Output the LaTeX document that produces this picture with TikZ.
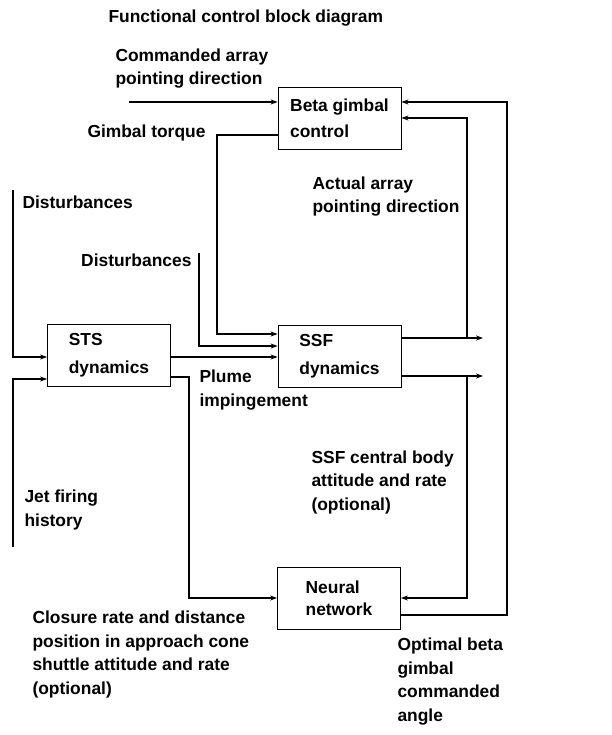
\documentclass[tikz,border=0pt]{standalone}
\usepackage{fontspec}
\setmainfont{Liberation Sans}
\usetikzlibrary{arrows.meta}

\tikzset{
	blk/.style={draw, thick, minimum width=123pt, minimum height=62pt, align=left, inner sep=0pt},
	lbl/.style={anchor=base west, align=left, inner sep=0pt},
	arr/.style={-{Stealth[length=7pt,width=5pt]}},
}

\begin{document}
\begin{tikzpicture}[x=1pt, y=-1pt, line width=1.1pt, font=\fontsize{17.4}{23.5}\selectfont\bfseries]

	\useasboundingbox (0,0) rectangle (611,735);

	% blocks
	\node[blk, font=\fontsize{17.4}{26}\selectfont\bfseries] (beta) at (339.5,118) {Beta gimbal\\control};
	\node[blk, font=\fontsize{17.4}{28}\selectfont\bfseries] (sts) at (109,355.5) {STS\\dynamics};
	\node[blk, font=\fontsize{17.4}{28}\selectfont\bfseries] (ssf) at (339.5,356.5) {SSF\\dynamics};
	\node[blk, font=\fontsize{17.4}{22}\selectfont\bfseries] (nn) at (339,598.5) {Neural\\network};

	% texts (base = last line)
	\node[lbl] (title) at (108,23) {Functional control block diagram};
	\node[lbl] (cmdtxt) at (115,85) {Commanded array\\pointing direction};
	\node[lbl, anchor=base east] (gttxt) at (206,138) {Gimbal torque};
	\node[lbl] (acttxt) at (312,213) {Actual array\\pointing direction};
	\node[lbl] (dtxta) at (22,208) {Disturbances};
	\node[lbl, anchor=base east] (dtxtb) at (192,266) {Disturbances};
	\node[lbl] (pltxt) at (199,406) {Plume\\impingement};
	\node[lbl] (jettxt) at (24,526) {Jet firing\\history};
	\node[lbl] (cbtxt) at (311,510) {SSF central body\\attitude and rate\\(optional)};
	\node[lbl] (cltxt) at (32,694) {Closure rate and distance\\position in approach cone\\shuttle attitude and rate\\(optional)};
	\node[lbl] (opttxt) at (397,721) {Optimal beta\\gimbal\\commanded\\angle};

	% free ends and corners
	\coordinate (cmdin) at (129,102);
	\coordinate (gt) at (217,135);
	\coordinate (dista) at (13,190);
	\coordinate (distb) at (199,253);
	\coordinate (jet) at (13,547);
	\coordinate (pl) at (189,377);
	\coordinate (outa) at (483,338);
	\coordinate (outb) at (483,376);
	\coordinate (fbin) at (467,338);
	\coordinate (fbnn) at (467,376);
	\coordinate (fbout) at (507,615);

	% connectors
	\draw[arr] (cmdin) -- (cmdin -| beta.west);
	\draw[arr] (beta.west |- gt) -- (gt) |- (ssf.west |- 0,334);
	\draw[arr] (distb) |- (ssf.west |- 0,346);
	\draw[arr] (sts.east |- 0,357) -- (ssf.west |- 0,357);
	\draw[arr] (dista) |- (sts.west |- 0,357);
	\draw[arr] (jet) |- (sts.west |- 0,379);
	\draw[arr] (sts.east |- pl) -- (pl) |- (nn.west |- 0,598);
	\draw[arr] (ssf.east |- outa) -- (outa);
	\draw[arr] (ssf.east |- outb) -- (outb);
	\draw[arr] (fbin) |- (beta.east |- 0,118);
	\draw[arr] (fbnn) |- (nn.east |- 0,598);
	\draw[arr] (nn.east |- fbout) -- (fbout) |- (beta.east |- 0,102);

\end{tikzpicture}
\end{document}
